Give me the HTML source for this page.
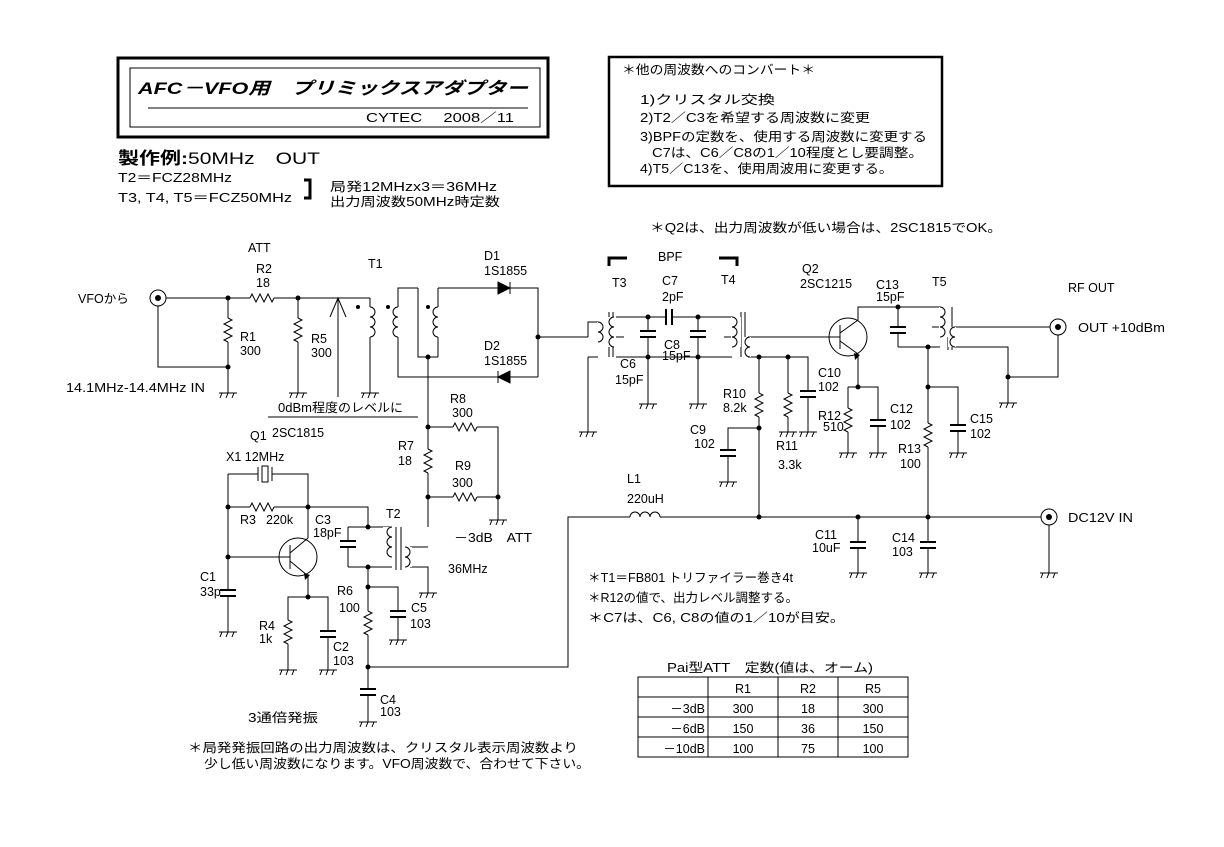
<!DOCTYPE html>
<html><head><meta charset="utf-8"><style>
body{margin:0;background:#fff}
svg{display:block}
text{font-family:"Liberation Sans","Noto Sans CJK JP",sans-serif;font-size:12.5px;fill:#000}
</style></head><body>
<svg width="1224" height="847" viewBox="0 0 1224 847" xmlns="http://www.w3.org/2000/svg">
<defs>
<g id="rv"><rect x="-5" y="-12" width="10" height="24" fill="#fff"/><path d="M0,-12 l4,2 l-8,4 l8,4 l-8,4 l8,4 l-8,4 l4,2" fill="none" stroke="#000"/></g>
<g id="rh"><rect x="-12" y="-5" width="24" height="10" fill="#fff"/><path d="M-12,0 l2,-4 l4,8 l4,-8 l4,8 l4,-8 l4,8 l2,-4" fill="none" stroke="#000"/></g>
<g id="cv"><rect x="-3" y="-3" width="6" height="6" fill="#fff"/><path d="M-8,-3 h16 M-8,3 h16" stroke="#000" stroke-width="2"/></g>
<g id="ch"><rect x="-3" y="-3" width="6" height="6" fill="#fff"/><path d="M-3,-8 v16 M3,-8 v16" stroke="#000" stroke-width="2"/></g>
<g id="gnd"><path d="M-9,0 h18 M-6,0 l-2,5 M0,0 l-2,5 M6,0 l-2,5" stroke="#000" fill="none"/></g>
<g id="coil"><rect x="-1" y="0" width="10" height="30" fill="#fff"/><path d="M0,0 a5,5 0 0 1 0,10 a5,5 0 0 1 0,10 a5,5 0 0 1 0,10" fill="none" stroke="#000"/></g>
<g id="coilL"><rect x="-9" y="0" width="10" height="30" fill="#fff"/><path d="M0,0 a5,5 0 0 0 0,10 a5,5 0 0 0 0,10 a5,5 0 0 0 0,10" fill="none" stroke="#000"/></g>
<g id="coil2"><rect x="-1" y="0" width="8" height="20" fill="#fff"/><path d="M0,0 a5,5 0 0 1 0,10 a5,5 0 0 1 0,10" fill="none" stroke="#000"/></g>
<g id="coil2L"><rect x="-7" y="0" width="8" height="20" fill="#fff"/><path d="M0,0 a5,5 0 0 0 0,10 a5,5 0 0 0 0,10" fill="none" stroke="#000"/></g>
<g id="coax"><circle r="8" fill="#fff" stroke="#000"/><circle r="3" fill="#000"/></g>
</defs>

<!-- title box -->
<rect x="118" y="58" width="430" height="79" fill="none" stroke="#000" stroke-width="3"/>
<rect x="130" y="68" width="410" height="59" fill="none" stroke="#000"/>
<line x1="148" y1="108" x2="528" y2="108" stroke="#000"/>
<text x="138" y="94" textLength="390" lengthAdjust="spacingAndGlyphs" style="font-size:17px;font-weight:bold;font-style:italic">AFC－VFO用　プリミックスアダプター</text>
<text x="366" y="122" textLength="148" lengthAdjust="spacingAndGlyphs">CYTEC　 2008／11</text>
<text x="118" y="164" textLength="202" lengthAdjust="spacingAndGlyphs" style="font-size:17px;font-weight:bold">製作例:<tspan font-weight="normal">50MHz　OUT</tspan></text>
<text x="118" y="182" textLength="114" lengthAdjust="spacingAndGlyphs">T2＝FCZ28MHz</text>
<text x="118" y="202" textLength="174" lengthAdjust="spacingAndGlyphs">T3, T4, T5＝FCZ50MHz</text>
<path d="M304,180 h6 v18 h-6" fill="none" stroke="#000" stroke-width="3"/>
<text x="330" y="191" textLength="167" lengthAdjust="spacingAndGlyphs">局発12MHzx3＝36MHz</text>
<text x="330" y="206" textLength="170" lengthAdjust="spacingAndGlyphs">出力周波数50MHz時定数</text>

<!-- right box -->
<rect x="609" y="57" width="333" height="129" fill="none" stroke="#000" stroke-width="2.5"/>
<text x="622" y="74" textLength="193" lengthAdjust="spacingAndGlyphs">＊他の周波数へのコンバート＊</text>
<text x="640" y="104" textLength="135" lengthAdjust="spacingAndGlyphs">1)クリスタル交換</text>
<text x="640" y="122" textLength="230" lengthAdjust="spacingAndGlyphs">2)T2／C3を希望する周波数に変更</text>
<text x="640" y="141" textLength="287" lengthAdjust="spacingAndGlyphs">3)BPFの定数を、使用する周波数に変更する</text>
<text x="652" y="157" textLength="271" lengthAdjust="spacingAndGlyphs">C7は、C6／C8の1／10程度とし要調整。</text>
<text x="640" y="173" textLength="253" lengthAdjust="spacingAndGlyphs">4)T5／C13を、使用周波用に変更する。</text>
<text x="650" y="232" textLength="352" lengthAdjust="spacingAndGlyphs">＊Q2は、出力周波数が低い場合は、2SC1815でOK。</text>

<g stroke="#000" fill="none">
<path d="M166,298 H370 M158,306 V367 H228 M228,298 V393 M298,298 V393 M338,298 V397 M330,317 L338,298 L346,317"/>
<path d="M370,298 V393"/>
<path d="M268,417 H418"/>
<path d="M418,288 H398 V377 H538 M438,288 H538 V377 M418,288 V357 H438 M438,288 V357 M538,337 H588 M428,357 V527"/>
<path d="M498,282 v12 L510,288 Z" fill="#000"/><path d="M510,282 v12"/>
<path d="M510,371 v12 L498,377 Z" fill="#000"/><path d="M498,371 v12"/>
<path d="M428,427 H498 V520 M428,497 H498"/>
<path d="M228,474 H258 M272,474 H308 V507 M228,474 V632 M228,507 H308 M308,507 H368 V527 M228,557 H290 M308,507 V538"/>
<circle cx="298" cy="557" r="19"/>
<path d="M290,545 V569 M290,553 L308,538 M290,561 L308,576 V597"/>
<path d="M308,597 H288 V670 M308,597 H328 V670"/>
<path d="M348,527 H392 M348,567 H392 M348,527 V567 M368,567 V722 M368,587 H398 V640 M368,667 H568 V517 H630 M660,517 H1041 M428,547 H410 M410,567 H428 V593"/>
<path d="M396,527 V570 M401,527 V570"/>
<path d="M258,467 v14 M272,467 v14"/><rect x="262" y="466" width="6" height="16"/>
<path d="M588,357 V432 M598,322 H588 V337 M598,357 H588"/>
<path d="M609,312 V357 M613,312 V357 M741,312 V357 M745,312 V357 M616,317 H732 M616,357 H732 M648,317 V404 M698,317 V404"/>
<path d="M616,337 h8 M732,337 h-8"/>
<path d="M748,337 H840 M748,357 H808 V432 M759,357 V517 M788,357 V432 M759,428 H728 V482"/>
<circle cx="848" cy="337" r="19"/>
<path d="M840,325 V349 M840,333 L858,320 V307 H940 M840,341 L858,354 V387 M848,387 H878 V453 M848,387 V453"/>
<path d="M898,307 V347 M898,347 H940 M928,347 V517 M928,387 H958 V453"/>
<path d="M948,307 V350 M952,307 V350 M932,327 H940"/>
<path d="M955,327 H1050 M955,347 H1008 V403 M1008,377 H1058 V335"/>
<path d="M858,517 V573 M928,517 V573 M1049,525 V573"/>
<path d="M609,266 V258 H627 M719,258 H737 V266" stroke-width="3"/>
<rect x="638" y="677" width="270" height="80"/>
<path d="M638,697 H908 M638,717 H908 M638,737 H908 M708,677 V757 M778,677 V757 M838,677 V757"/>
</g>
<path d="M855,360 l5,-5 l-6,-2 z M305,580 l5,-5 l-6,-2 z" fill="#000"/>

<use href="#rh" x="262" y="298"/><use href="#rv" x="228" y="330"/><use href="#rv" x="298" y="330"/>
<use href="#coil" x="370" y="307"/><use href="#coilL" x="398" y="307"/><use href="#coilL" x="438" y="307"/>
<use href="#rh" x="465" y="427"/><use href="#rh" x="465" y="497"/><use href="#rv" x="428" y="461"/>
<use href="#rh" x="262" y="507"/><use href="#cv" x="228" y="593"/><use href="#rv" x="288" y="632"/><use href="#cv" x="328" y="634"/>
<use href="#cv" x="348" y="544"/><use href="#coilL" x="392" y="527"/>
<use href="#coil2" x="405" y="547"/><use href="#cv" x="398" y="614"/><use href="#rv" x="368" y="623"/><use href="#cv" x="368" y="692"/>
<use href="#coil2" x="598" y="322"/><use href="#coilL" x="614" y="317"/>
<use href="#cv" x="648" y="334"/><use href="#ch" x="669" y="317"/><use href="#cv" x="698" y="334"/>
<use href="#coil" x="732" y="317"/><use href="#coil2L" x="750" y="337"/>
<use href="#rv" x="759" y="405"/><use href="#rv" x="788" y="405"/><use href="#cv" x="808" y="394"/><use href="#cv" x="728" y="453"/>
<use href="#rv" x="848" y="420"/><use href="#cv" x="878" y="423"/><use href="#cv" x="898" y="330"/>
<use href="#coil" x="940" y="307"/><use href="#coil2L" x="955" y="327"/>
<use href="#rv" x="928" y="435"/><use href="#cv" x="958" y="428"/>
<use href="#cv" x="858" y="545"/><use href="#cv" x="928" y="545"/>
<rect x="630" y="510" width="30" height="10" fill="#fff"/>
<path d="M630,517 a5,5 0 0 1 10,0 a5,5 0 0 1 10,0 a5,5 0 0 1 10,0" fill="none" stroke="#000"/>
<use href="#coax" x="158" y="298"/><use href="#coax" x="1058" y="327"/><use href="#coax" x="1049" y="517"/>
<use href="#gnd" x="228" y="393"/><use href="#gnd" x="298" y="393"/><use href="#gnd" x="370" y="393"/><use href="#gnd" x="498" y="520"/>
<use href="#gnd" x="228" y="632"/><use href="#gnd" x="288" y="670"/><use href="#gnd" x="328" y="670"/><use href="#gnd" x="428" y="593"/><use href="#gnd" x="398" y="640"/><use href="#gnd" x="368" y="722"/>
<use href="#gnd" x="588" y="432"/><use href="#gnd" x="648" y="404"/><use href="#gnd" x="698" y="404"/><use href="#gnd" x="728" y="482"/>
<use href="#gnd" x="788" y="432"/><use href="#gnd" x="808" y="432"/><use href="#gnd" x="848" y="453"/><use href="#gnd" x="878" y="453"/><use href="#gnd" x="958" y="453"/><use href="#gnd" x="1008" y="403"/>
<use href="#gnd" x="858" y="573"/><use href="#gnd" x="928" y="573"/><use href="#gnd" x="1049" y="573"/>
<g fill="#000">
<circle cx="228" cy="298" r="2.5"/><circle cx="228" cy="367" r="2.5"/><circle cx="298" cy="298" r="2.5"/>
<circle cx="358" cy="307" r="2"/><circle cx="388" cy="307" r="2"/><circle cx="428" cy="307" r="2"/>
<circle cx="428" cy="357" r="2.5"/><circle cx="538" cy="337" r="2.5"/><circle cx="428" cy="427" r="2.5"/><circle cx="428" cy="497" r="2.5"/><circle cx="498" cy="497" r="2.5"/>
<circle cx="228" cy="507" r="2.5"/><circle cx="308" cy="507" r="2.5"/><circle cx="228" cy="557" r="2.5"/><circle cx="308" cy="597" r="2.5"/>
<circle cx="368" cy="527" r="2.5"/><circle cx="368" cy="567" r="2.5"/><circle cx="368" cy="587" r="2.5"/><circle cx="368" cy="667" r="2.5"/>
<circle cx="648" cy="317" r="2.5"/><circle cx="698" cy="317" r="2.5"/><circle cx="648" cy="357" r="2.5"/><circle cx="698" cy="357" r="2.5"/>
<circle cx="759" cy="357" r="2.5"/><circle cx="788" cy="357" r="2.5"/><circle cx="759" cy="428" r="2.5"/><circle cx="858" cy="387" r="2.5"/>
<circle cx="898" cy="307" r="2.5"/><circle cx="928" cy="347" r="2.5"/><circle cx="928" cy="387" r="2.5"/><circle cx="1008" cy="377" r="2.5"/>
<circle cx="759" cy="517" r="2.5"/><circle cx="858" cy="517" r="2.5"/><circle cx="928" cy="517" r="2.5"/>
</g>

<text x="78" y="303">VFOから</text>
<text x="66" y="392" textLength="139" lengthAdjust="spacingAndGlyphs">14.1MHz-14.4MHz IN</text>
<text x="248" y="252">ATT</text><text x="256" y="273">R2</text><text x="256" y="287">18</text>
<text x="240" y="341">R1</text><text x="240" y="355">300</text><text x="311" y="343">R5</text><text x="311" y="357">300</text>
<text x="368" y="268">T1</text><text x="484" y="260">D1</text><text x="484" y="275">1S1855</text>
<text x="484" y="350">D2</text><text x="484" y="365">1S1855</text>
<text x="278" y="412" textLength="125" lengthAdjust="spacingAndGlyphs">0dBm程度のレベルに</text>
<text x="250" y="440">Q1</text><text x="272" y="437">2SC1815</text>
<text x="226" y="461">X1 12MHz</text>
<text x="240" y="524">R3</text><text x="266" y="524">220k</text>
<text x="315" y="524">C3</text><text x="313" y="537">18pF</text><text x="386" y="518">T2</text>
<text x="200" y="581">C1</text><text x="200" y="596">33p</text>
<text x="259" y="630">R4</text><text x="259" y="643">1k</text><text x="333" y="651">C2</text><text x="333" y="665">103</text>
<text x="337" y="595">R6</text><text x="339" y="612">100</text><text x="411" y="612">C5</text><text x="410" y="628">103</text>
<text x="380" y="704">C4</text><text x="380" y="716">103</text>
<text x="248" y="722" textLength="70" lengthAdjust="spacingAndGlyphs">3通倍発振</text>
<text x="450" y="403">R8</text><text x="452" y="417">300</text><text x="398" y="450">R7</text><text x="398" y="465">18</text>
<text x="455" y="470">R9</text><text x="452" y="487">300</text>
<text x="454" y="542" textLength="78" lengthAdjust="spacingAndGlyphs">－3dB　ATT</text><text x="448" y="573">36MHz</text>
<text x="188" y="752" textLength="390" lengthAdjust="spacingAndGlyphs">＊局発発振回路の出力周波数は、クリスタル表示周波数より</text>
<text x="204" y="768" textLength="386" lengthAdjust="spacingAndGlyphs">少し低い周波数になります。VFO周波数で、合わせて下さい。</text>
<text x="658" y="261">BPF</text><text x="612" y="287">T3</text><text x="721" y="284">T4</text>
<text x="662" y="285">C7</text><text x="662" y="301">2pF</text>
<text x="620" y="368">C6</text><text x="615" y="384">15pF</text><text x="664" y="349">C8</text><text x="662" y="360">15pF</text>
<text x="802" y="273">Q2</text><text x="800" y="288">2SC1215</text>
<text x="876" y="289">C13</text><text x="876" y="301">15pF</text><text x="932" y="286">T5</text>
<text x="1068" y="292">RF OUT</text><text x="1078" y="332" textLength="87" lengthAdjust="spacingAndGlyphs">OUT +10dBm</text>
<text x="818" y="377">C10</text><text x="818" y="391">102</text>
<text x="723" y="398">R10</text><text x="723" y="412">8.2k</text><text x="690" y="434">C9</text><text x="694" y="448">102</text>
<text x="776" y="450">R11</text><text x="778" y="469">3.3k</text>
<text x="818" y="420">R12</text><text x="823" y="431">510</text><text x="890" y="413">C12</text><text x="890" y="429">102</text>
<text x="898" y="453">R13</text><text x="900" y="468">100</text><text x="970" y="423">C15</text><text x="970" y="438">102</text>
<text x="627" y="483">L1</text><text x="627" y="503">220uH</text>
<text x="815" y="539">C11</text><text x="812" y="552">10uF</text><text x="892" y="542">C14</text><text x="892" y="556">103</text>
<text x="1068" y="522" textLength="65" lengthAdjust="spacingAndGlyphs">DC12V IN</text>
<text x="588" y="582" textLength="205" lengthAdjust="spacingAndGlyphs">＊T1＝FB801 トリファイラー巻き4t</text>
<text x="588" y="602" textLength="210" lengthAdjust="spacingAndGlyphs">＊R12の値で、出力レベル調整する。</text>
<text x="588" y="622" textLength="257" lengthAdjust="spacingAndGlyphs">＊C7は、C6, C8の値の1／10が目安。</text>
<text x="667" y="672" textLength="206" lengthAdjust="spacingAndGlyphs">Pai型ATT　定数(値は、オーム)</text>
<g text-anchor="middle">
<text x="743" y="693">R1</text><text x="808" y="693">R2</text><text x="873" y="693">R5</text>
<text x="743" y="713">300</text><text x="808" y="713">18</text><text x="873" y="713">300</text>
<text x="743" y="733">150</text><text x="808" y="733">36</text><text x="873" y="733">150</text>
<text x="743" y="753">100</text><text x="808" y="753">75</text><text x="873" y="753">100</text>
</g>
<g text-anchor="end"><text x="705" y="713">－3dB</text><text x="705" y="733">－6dB</text><text x="705" y="753">－10dB</text></g>
</svg>
</body></html>
